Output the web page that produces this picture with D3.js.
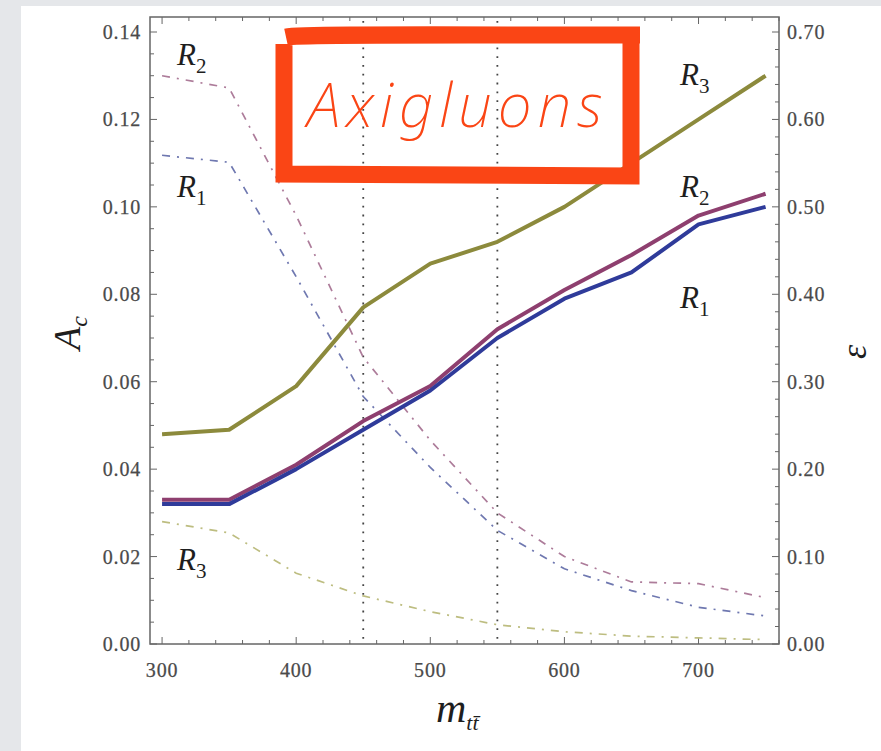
<!DOCTYPE html>
<html>
<head>
<meta charset="utf-8">
<script src="https://d3js.org/d3.v7.min.js"></script>
<style>
  body { margin: 0; background: #e5e7ea; }
  svg { display: block; }
  .tick-label { font-family: "Liberation Serif", "DejaVu Serif", serif; font-size: 20px; letter-spacing: 0.8px; fill: #4a4a4a; stroke: #4a4a4a; stroke-width: 0.25px; }
  .rlab { font-family: "Liberation Serif", serif; font-style: italic; font-size: 31px; fill: #1e1e1e; }
</style>
</head>
<body>
<script>
// cut on m_tt (GeV)
var mtt = [300, 350, 400, 450, 500, 550, 600, 650, 700, 750];

// charge asymmetry A_c (left axis, solid lines)
var acR1 = [0.032, 0.032, 0.040, 0.049, 0.058, 0.070, 0.079, 0.085, 0.096, 0.100];
var acR2 = [0.033, 0.033, 0.041, 0.051, 0.059, 0.072, 0.081, 0.089, 0.098, 0.103];
var acR3 = [0.048, 0.049, 0.059, 0.077, 0.087, 0.092, 0.100, 0.110, 0.120, 0.130];

// efficiency epsilon (right axis, dash-dot lines)
var epsR1 = [0.559, 0.551, 0.42, 0.283, 0.202, 0.130, 0.086, 0.061, 0.042, 0.032];
var epsR2 = [0.650, 0.636, 0.49, 0.328, 0.233, 0.150, 0.100, 0.071, 0.069, 0.053];
var epsR3 = [0.140, 0.127, 0.081, 0.055, 0.037, 0.022, 0.014, 0.009, 0.007, 0.005];

var leftTicks = [0, 0.02, 0.04, 0.06, 0.08, 0.10, 0.12, 0.14];
var rightTicks = [0, 0.1, 0.2, 0.3, 0.4, 0.5, 0.6, 0.7];
var xTicks = [300, 400, 500, 600, 700];
var cutLines = [450, 550];

var W = 881, H = 751;
var svg = d3.select("body").append("svg").attr("width", W).attr("height", H);

// white slide panel
svg.append("rect").attr("x", 21).attr("y", 6).attr("width", W - 21).attr("height", H - 6).attr("fill", "#fff");

var pL = 150, pR = 779, pT = 17, pB = 644;
var x = d3.scaleLinear().domain([291, 760]).range([pL, pR]);
var yL = d3.scaleLinear().domain([0, 0.14]).range([pB, 32]);
var yR = d3.scaleLinear().domain([0, 0.7]).range([pB, 32]);

var g = svg.append("g");
var frameColor = "#666";

// minor/major ticks, pointing inward
var xMinor = d3.range(300, 761, 20);
var lMinor = d3.range(0, 0.1401, 0.005);
var rMinor = d3.range(0, 0.7001, 0.02);
function isMajor(v, step) { return Math.abs(v / step - Math.round(v / step)) < 1e-6; }

xMinor.forEach(function (v) {
  var len = isMajor(v, 100) ? 7 : 4;
  g.append("line").attr("x1", x(v)).attr("x2", x(v)).attr("y1", pB).attr("y2", pB - len)
    .attr("stroke", frameColor).attr("stroke-width", 1);
  g.append("line").attr("x1", x(v)).attr("x2", x(v)).attr("y1", pT).attr("y2", pT + len)
    .attr("stroke", frameColor).attr("stroke-width", 1);
});
lMinor.forEach(function (v) {
  var len = isMajor(v, 0.02) ? 7 : 4;
  g.append("line").attr("x1", pL).attr("x2", pL + len).attr("y1", yL(v)).attr("y2", yL(v))
    .attr("stroke", frameColor).attr("stroke-width", 1);
});
rMinor.forEach(function (v) {
  var len = isMajor(v, 0.1) ? 7 : 4;
  g.append("line").attr("x1", pR).attr("x2", pR - len).attr("y1", yR(v)).attr("y2", yR(v))
    .attr("stroke", frameColor).attr("stroke-width", 1);
});

g.append("rect").attr("x", pL).attr("y", pT).attr("width", pR - pL).attr("height", pB - pT)
  .attr("fill", "none").attr("stroke", frameColor).attr("stroke-width", 1.5);

// tick labels
g.selectAll(".ll").data(leftTicks).enter().append("text")
  .attr("class", "tick-label").attr("x", pL - 9).attr("y", function (d) { return yL(d) + 7; })
  .attr("text-anchor", "end").text(d3.format(".2f"));
g.selectAll(".rl").data(rightTicks).enter().append("text")
  .attr("class", "tick-label").attr("x", pR + 8).attr("y", function (d) { return yR(d) + 7; })
  .attr("text-anchor", "start").text(d3.format(".2f"));
g.selectAll(".xl").data(xTicks).enter().append("text")
  .attr("class", "tick-label").attr("x", function (d) { return x(d); }).attr("y", pB + 33)
  .attr("text-anchor", "middle").text(function (d) { return d; });

// vertical dotted cut lines
g.selectAll(".cut").data(cutLines).enter().append("line")
  .attr("x1", function (d) { return x(d); }).attr("x2", function (d) { return x(d); })
  .attr("y1", pT + 4).attr("y2", pB)
  .attr("stroke", "#444").attr("stroke-width", 1.8).attr("stroke-dasharray", "1.8,7");

// efficiency curves (dash-dot)
var lineR = d3.line().x(function (d, i) { return x(mtt[i]); }).y(function (d) { return yR(d); });
[[epsR2, "#ad7c9a"], [epsR1, "#6f78b0"], [epsR3, "#bdbd80"]].forEach(function (s) {
  g.append("path").datum(s[0]).attr("d", lineR).attr("fill", "none")
    .attr("stroke", s[1]).attr("stroke-width", 1.7).attr("stroke-dasharray", "8,7,2,7");
});

// asymmetry curves (solid)
var lineL = d3.line().x(function (d, i) { return x(mtt[i]); }).y(function (d) { return yL(d); });
[[acR3, "#8c8a3c"], [acR2, "#8e3f6f"], [acR1, "#2f3b9a"]].forEach(function (s) {
  g.append("path").datum(s[0]).attr("d", lineL).attr("fill", "none")
    .attr("stroke", s[1]).attr("stroke-width", 4).attr("stroke-linejoin", "round");
});

// curve labels
function rlabel(px, py, sub) {
  var t = g.append("text").attr("class", "rlab").attr("x", px).attr("y", py);
  t.append("tspan").text("R");
  t.append("tspan").attr("dy", 8).attr("font-size", 21).attr("font-style", "normal").text(sub);
}
rlabel(177, 65, "2");
rlabel(177, 197, "1");
rlabel(177, 570, "3");
rlabel(680, 85, "3");
rlabel(680, 197, "2");
rlabel(680, 308, "1");

// axis titles
var at = g.append("text").attr("transform", "translate(80,333) rotate(-90)")
  .attr("text-anchor", "middle").attr("font-family", "Liberation Serif, serif")
  .attr("font-style", "italic").attr("font-size", 38).attr("fill", "#1e1e1e");
at.append("tspan").text("A");
at.append("tspan").attr("dy", 7).attr("font-size", 24).text("c");

g.append("text").attr("transform", "translate(866,352) rotate(-90)")
  .attr("text-anchor", "middle").attr("font-family", "Liberation Serif, serif")
  .attr("font-style", "italic").attr("font-size", 36).attr("fill", "#1e1e1e").text("ε");

var xt = g.append("text").attr("x", 436).attr("y", 722)
  .attr("text-anchor", "start").attr("font-family", "Liberation Serif, serif")
  .attr("font-style", "italic").attr("font-size", 42).attr("fill", "#1e1e1e");
xt.append("tspan").text("m");
xt.append("tspan").attr("dy", 8).attr("font-size", 22).text("tt\u0304");

// hand-drawn "Axigluons" box
var red = "#fa4515";
var box = svg.append("g");
box.append("path")
  .attr("d", "M286,37 C300,34 420,35 640,35 L631,35 L631,176 L284,174 L284,44")
  .attr("fill", "none").attr("stroke", red).attr("stroke-width", 17).attr("stroke-linejoin", "miter");
box.append("text").attr("x", 458).attr("y", 127).attr("text-anchor", "middle")
  .attr("font-family", "Noto Sans, sans-serif").attr("font-style", "italic").attr("font-weight", 200)
  .attr("font-size", 60).attr("letter-spacing", 6).attr("fill", red).text("Axigluons");
</script>
</body>
</html>
